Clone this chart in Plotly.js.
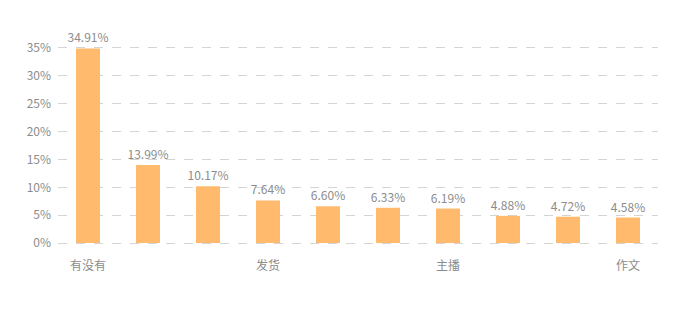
<!DOCTYPE html>
<html>
<head>
<meta charset="utf-8">
<script src="https://cdn.plot.ly/plotly-3.0.1.min.js"></script>
<style>html,body{margin:0;padding:0;background:#fff;}#chart{width:691px;height:316px;}</style>
</head>
<body>
<div id="chart"></div>
<script>
const positions = [0, 1, 2, 3, 4, 5, 6, 7, 8, 9];
const values = [34.91, 13.99, 10.17, 7.64, 6.60, 6.33, 6.19, 4.88, 4.72, 4.58];
const tickPositions = [0, 3, 6, 9];
const tickLabels = ['有没有', '发货', '主播', '作文'];
const yTicks = [0, 5, 10, 15, 20, 25, 30, 35];
const yTickLabels = ['0%', '5%', '10%', '15%', '20%', '25%', '30%', '35%'];

const font = '"Noto Sans CJK SC", "Noto Sans", sans-serif';
const trace = {
  type: 'bar',
  x: positions,
  y: values,
  width: 0.4,
  marker: {color: '#FFBA6E'},
  text: values.map(v => v.toFixed(2) + '%'),
  textposition: 'outside',
  constraintext: 'none',
  cliponaxis: false,
  textfont: {family: font, size: 12, color: '#8c8c8c'},
  hoverinfo: 'none'
};
const layout = {
  width: 691, height: 316,
  margin: {l: 58, r: 33, t: 46, b: 71},
  paper_bgcolor: '#fff', plot_bgcolor: '#fff',
  showlegend: false,
  font: {family: font, color: '#8c8c8c', size: 12},
  xaxis: {
    range: [-0.5, 9.5], fixedrange: true,
    tickmode: 'array', tickvals: tickPositions, ticktext: tickLabels,
    showgrid: false, zeroline: false, showline: false, ticks: '',
    ticklabelstandoff: 12,
    tickfont: {family: font, size: 12, color: '#8c8c8c'}
  },
  yaxis: {
    range: [-0.35, 35.35], fixedrange: true,
    tickmode: 'array', tickvals: yTicks, ticktext: yTickLabels,
    showgrid: true, gridcolor: '#d4d4d4', griddash: 'dash', gridwidth: 1,
    zeroline: false, showline: false, ticks: '',
    ticklabelstandoff: 6,
    tickfont: {family: font, size: 12, color: '#8c8c8c'}
  }
};
Plotly.newPlot('chart', [trace], layout, {displayModeBar: false, staticPlot: true});
</script>
</body>
</html>
